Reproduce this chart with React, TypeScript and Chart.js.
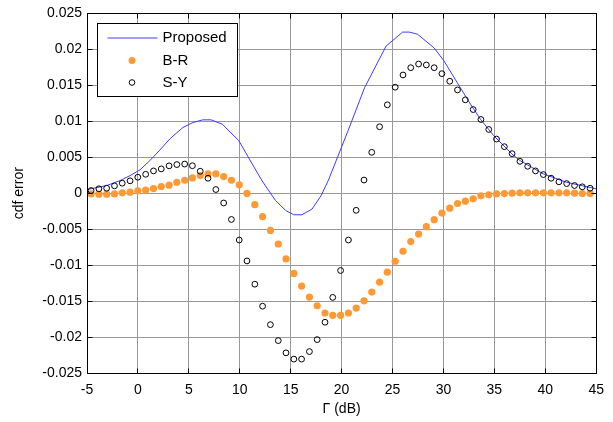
import React, { useEffect, useRef } from 'react';
import { Chart, registerables } from 'chart.js';

Chart.register(...registerables);

// Γ (dB) sample positions of the marker series
const gammaDb = [
  -4.6, -3.83, -3.07, -2.3, -1.54, -0.77, -0.01, 0.76, 1.53, 2.29,
  3.06, 3.82, 4.59, 5.35, 6.12, 6.88, 7.65, 8.42, 9.18, 9.95,
  10.71, 11.48, 12.24, 13.01, 13.78, 14.54, 15.31, 16.07, 16.84, 17.6,
  18.37, 19.13, 19.9, 20.67, 21.43, 22.2, 22.96, 23.73, 24.49, 25.26,
  26.03, 26.79, 27.56, 28.32, 29.09, 29.85, 30.62, 31.38, 32.15, 32.92,
  33.68, 34.45, 35.21, 35.98, 36.74, 37.51, 38.27, 39.04, 39.81, 40.57,
  41.34, 42.1, 42.87, 43.63, 44.4,
];

// S-Y cdf error
const syError = [
  0.00037, 0.00061, 0.00069, 0.00102, 0.00139, 0.00172, 0.00222, 0.00263, 0.0031, 0.00338,
  0.0038, 0.00398, 0.00405, 0.00382, 0.00305, 0.00208, 0.00051, -0.00136, -0.00365, -0.00651,
  -0.00942, -0.01265, -0.01571, -0.01828, -0.0205, -0.0222, -0.02307, -0.02307, -0.02202, -0.02036,
  -0.01794, -0.01449, -0.01075, -0.00651, -0.00238, 0.00183, 0.00568, 0.00924, 0.01229, 0.01474,
  0.01644, 0.01745, 0.01796, 0.01783, 0.01745, 0.01662, 0.01557, 0.01436, 0.01298, 0.01163,
  0.01025, 0.00886, 0.00753, 0.00647, 0.0055, 0.00443, 0.00374, 0.0031, 0.00259, 0.00208,
  0.00158, 0.00134, 0.00107, 0.00089, 0.00069,
];

// B-R cdf error
const brError = [
  -0.0001, -0.00013, -0.00013, -0.0001, 0.00005, 0.00014, 0.00033, 0.00042, 0.00065, 0.00093,
  0.00111, 0.00152, 0.0018, 0.00213, 0.00245, 0.00269, 0.00269, 0.00231, 0.0018, 0.00116,
  -0.00003, -0.0016, -0.00325, -0.00517, -0.00706, -0.00914, -0.01116, -0.01292, -0.01445, -0.01565,
  -0.01666, -0.01698, -0.01698, -0.01666, -0.01597, -0.01496, -0.01375, -0.01237, -0.01098, -0.00946,
  -0.00807, -0.00673, -0.00568, -0.00465, -0.00368, -0.00277, -0.00208, -0.00143, -0.00111, -0.00078,
  -0.00036, -0.00022, -0.0001, -0.00005, 0, 0.00005, 0.00005, 0.00005, 0.00005, 0.00005,
  0.00005, 0.00005, 0, -0.00005, -0.00005,
];

// Proposed curve (line)
const proposedDb = [
  -5, -3.05, -1.75, -0.77, 0.2, 1.17, 2.15, 3.12, 4.42, 5.4,
  6.37, 7.18, 8.28, 9.91, 11.21, 12.2, 13.5, 14.5, 15.3, 16.1,
  17.1, 18.0, 18.7, 20.63, 22.26, 24.37, 25.99, 26.65, 27.46, 29.08,
  30.06, 31.35, 32.65, 33.63, 34.93, 36.72, 37.52, 39.8, 42.08, 45,
];
const proposedError = [
  0.0005, 0.00107, 0.00176, 0.00245, 0.00324, 0.00453, 0.006, 0.00753, 0.00914, 0.00983,
  0.0102, 0.0102, 0.0096, 0.0073, 0.0041, 0.0017, -0.001, -0.0024, -0.003, -0.003,
  -0.0022, -0.0003, 0.0018, 0.00868, 0.01468, 0.02046, 0.0224, 0.0224, 0.0221, 0.0202,
  0.01838, 0.01537, 0.01238, 0.0103, 0.008, 0.00546, 0.00453, 0.00269, 0.00152, 0.00061,
];

const xTickValues = [-5, 0, 5, 10, 15, 20, 25, 30, 35, 40, 45];
const yTickValues = [-0.025, -0.02, -0.015, -0.01, -0.005, 0, 0.005, 0.01, 0.015, 0.02, 0.025];

const seriesNames = ['Proposed', 'B-R', 'S-Y'];
const FONT = 'Liberation Sans, Arial, sans-serif';
const BLUE = '#3c3cff';
const ORANGE = '#ff9933';

const alignPx = (v: number) => Math.round(v - 0.5) + 0.5;

const framePlugin = {
  id: 'matlabFrame',
  afterDatasetsDraw(chart: any) {
    const { ctx, chartArea: a, scales } = chart;
    const L = alignPx(a.left), R = alignPx(a.right), T = alignPx(a.top), B = alignPx(a.bottom);
    ctx.save();
    ctx.strokeStyle = '#000';
    ctx.lineWidth = 1;
    ctx.strokeRect(L, T, R - L, B - T);
    const tl = 5;
    ctx.beginPath();
    for (const v of xTickValues) {
      const p = alignPx(scales.x.getPixelForValue(v));
      ctx.moveTo(p, B); ctx.lineTo(p, B - tl);
      ctx.moveTo(p, T); ctx.lineTo(p, T + tl);
    }
    for (const v of yTickValues) {
      const p = alignPx(scales.y.getPixelForValue(v));
      ctx.moveTo(L, p); ctx.lineTo(L + tl, p);
      ctx.moveTo(R, p); ctx.lineTo(R - tl, p);
    }
    ctx.stroke();

    // legend box
    const bx = alignPx(a.left + 10), by = alignPx(a.top + 10);
    const bw = 140, bh = 73;
    ctx.fillStyle = '#fff';
    ctx.fillRect(bx, by, bw, bh);
    ctx.strokeRect(bx, by, bw, bh);
    ctx.font = `15px ${FONT}`;
    ctx.textBaseline = 'middle';
    ctx.textAlign = 'left';
    ctx.fillStyle = '#000';
    const rows = [by + 14, by + 37, by + 59];
    // Proposed
    ctx.strokeStyle = BLUE;
    ctx.beginPath();
    ctx.moveTo(bx + 10, rows[0] + 0.5);
    ctx.lineTo(bx + 60, rows[0] + 0.5);
    ctx.stroke();
    ctx.fillText(seriesNames[0], bx + 65, rows[0]);
    // B-R
    ctx.fillStyle = ORANGE;
    ctx.beginPath();
    ctx.arc(bx + 34.5, rows[1], 3.5, 0, Math.PI * 2);
    ctx.fill();
    ctx.fillStyle = '#000';
    ctx.fillText(seriesNames[1], bx + 65, rows[1]);
    // S-Y
    ctx.strokeStyle = '#000';
    ctx.beginPath();
    ctx.arc(bx + 34.5, rows[2], 2.8, 0, Math.PI * 2);
    ctx.stroke();
    ctx.fillText(seriesNames[2], bx + 65, rows[2]);
    ctx.restore();
  },
};

export default function App() {
  const canvasRef = useRef<HTMLCanvasElement | null>(null);

  useEffect(() => {
    if (!canvasRef.current) return;
    const chart = new Chart(canvasRef.current, {
      type: 'scatter',
      data: {
        datasets: [
          {
            label: seriesNames[0],
            data: proposedDb.map((x, i) => ({ x, y: proposedError[i] })),
            showLine: true,
            borderColor: BLUE,
            borderWidth: 1,
            pointRadius: 0,
            tension: 0,
            order: 3,
          },
          {
            label: seriesNames[1],
            data: gammaDb.map((x, i) => ({ x, y: brError[i] })),
            showLine: false,
            pointRadius: 3.6,
            pointBackgroundColor: ORANGE,
            pointBorderColor: ORANGE,
            pointBorderWidth: 0,
            order: 2,
          },
          {
            label: seriesNames[2],
            data: gammaDb.map((x, i) => ({ x, y: syError[i] })),
            showLine: false,
            pointRadius: 2.9,
            pointBackgroundColor: 'rgba(0,0,0,0)',
            pointBorderColor: '#000',
            pointBorderWidth: 1,
            order: 1,
          },
        ],
      },
      options: {
        responsive: false,
        animation: false,
        layout: { padding: { top: 12, right: 13, left: 0, bottom: 0 } },
        plugins: { legend: { display: false }, tooltip: { enabled: false } },
        scales: {
          x: {
            type: 'linear',
            min: -5,
            max: 45,
            afterBuildTicks: (s: any) => { s.ticks = xTickValues.map((v) => ({ value: v })); },
            afterFit: (s: any) => { s.height = 49; },
            ticks: {
              color: '#000',
              font: { family: FONT, size: 14 },
              padding: 9,
              maxRotation: 0,
              autoSkip: false,
              callback: (v: any) => String(v),
            },
            grid: { color: '#999', lineWidth: 1, drawTicks: false },
            border: { display: false },
            title: {
              display: true,
              text: 'Γ (dB)',
              color: '#000',
              font: { family: FONT, size: 14 },
              padding: { top: 4, bottom: 4 },
            },
          },
          y: {
            type: 'linear',
            min: -0.025,
            max: 0.025,
            afterBuildTicks: (s: any) => { s.ticks = yTickValues.map((v) => ({ value: v })); },
            afterFit: (s: any) => { s.width = 87; },
            ticks: {
              color: '#000',
              font: { family: FONT, size: 14 },
              padding: 5,
              autoSkip: false,
              callback: (v: any) => String(v),
            },
            grid: { color: '#999', lineWidth: 1, drawTicks: false },
            border: { display: false },
            title: {
              display: true,
              text: 'cdf error',
              color: '#000',
              font: { family: FONT, size: 14 },
              padding: { top: 11, bottom: 11 },
            },
          },
        },
      },
      plugins: [framePlugin],
    } as any);
    return () => chart.destroy();
  }, []);

  return (
    <div style={{ position: 'absolute', left: 0, top: 0, width: 613, height: 422, background: '#fff' }}>
      <canvas ref={canvasRef} width={613} height={422} style={{ display: 'block' }} />
    </div>
  );
}
